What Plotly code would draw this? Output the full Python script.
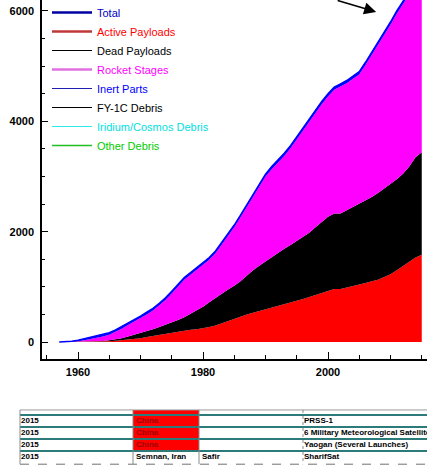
import plotly.graph_objects as go

# years (one point per year)
anos = list(range(1957, 2016))

# cumulative counts (top edge of each stacked band)
ativos = [0, 1, 2, 3, 4, 6, 8, 10, 15, 25, 35, 45, 57, 70, 90, 110, 125, 140, 160, 185,
          200, 220, 230, 245, 270, 300, 340, 380, 430, 470, 500, 530, 560, 590, 620, 650,
          685, 720, 750, 780, 815, 850, 890, 930, 960, 960, 985, 1010, 1040, 1070, 1100,
          1130, 1180, 1230, 1300, 1380, 1460, 1530, 1580]
mortos = [0, 1, 2, 3, 5, 7, 10, 18, 30, 48, 70, 100, 130, 160, 195, 230, 270, 310, 350, 400,
          450, 510, 580, 640, 720, 800, 870, 950, 1020, 1100, 1200, 1300, 1380, 1460, 1540,
          1620, 1690, 1760, 1830, 1900, 1980, 2080, 2170, 2270, 2330, 2330, 2390, 2450, 2500,
          2560, 2630, 2700, 2780, 2860, 2950, 3050, 3180, 3350, 3440]
foguetes = [0, 1, 5, 12, 30, 50, 70, 100, 130, 180, 240, 310, 370, 430, 500, 570, 660, 760,
            880, 1010, 1130, 1220, 1310, 1390, 1490, 1610, 1760, 1930, 2080, 2260, 2440, 2630,
            2810, 3000, 3130, 3250, 3370, 3510, 3670, 3840, 4000, 4170, 4310, 4450, 4570, 4630,
            4690, 4770, 4850, 5020, 5200, 5370, 5550, 5750, 5950, 6120, 6300, 6480, 6650]
total = [0, 5, 15, 30, 60, 85, 110, 140, 170, 220, 280, 350, 410, 470, 540, 610, 700, 800,
         920, 1050, 1170, 1260, 1350, 1430, 1530, 1650, 1800, 1970, 2120, 2300, 2480, 2670,
         2850, 3040, 3180, 3300, 3420, 3560, 3720, 3890, 4050, 4220, 4360, 4500, 4620, 4680,
         4740, 4820, 4900, 5070, 5250, 5420, 5600, 5800, 6000, 6170, 6350, 6530, 6700]

# legend entries
legenda = ["Total", "Active Payloads", "Dead Payloads", "Rocket Stages", "Inert Parts",
           "FY-1C Debris", "Iridium/Cosmos Debris", "Other Debris"]
cor_linha = ["#0000a0", "#c03838", "#000000", "#e070e0", "#2020b0", "#000000", "#30e8e8", "#20c020"]
cor_texto = ["#0000c8", "#ff0000", "#000000", "#ff00ff", "#0000ff", "#000000", "#00e0e0", "#00cc00"]
larg_linha = [2.5, 2.5, 1, 2.5, 1, 1, 1, 1.5]

# table rows under the chart
tab_ano = ["2015", "2015", "2015", "2015"]
tab_local = ["China", "China", "China", "Semnan, Iran"]
tab_foguete = ["", "", "", "Safir"]
tab_satelite = ["PRSS-1", "6 Military Meteorological Satellites",
                "Yaogan (Several Launches)", "SharifSat"]

W, H = 427, 470

fig = go.Figure()

fig.add_trace(go.Scatter(x=anos, y=ativos, fill="tozeroy", mode="lines",
                         line=dict(color="#ff0000", width=0), fillcolor="#ff0000",
                         showlegend=False, hoverinfo="skip"))
fig.add_trace(go.Scatter(x=anos, y=mortos, fill="tonexty", mode="lines",
                         line=dict(color="#000000", width=0), fillcolor="#000000",
                         showlegend=False, hoverinfo="skip"))
fig.add_trace(go.Scatter(x=anos, y=foguetes, fill="tonexty", mode="lines",
                         line=dict(color="#ff00ff", width=0), fillcolor="#ff00ff",
                         showlegend=False, hoverinfo="skip"))
fig.add_trace(go.Scatter(x=anos, y=total, fill="tonexty", mode="lines",
                         line=dict(color="#0000ff", width=1.5), fillcolor="#0000ff",
                         showlegend=False, hoverinfo="skip"))

for nome, cl, ct, lw in zip(legenda, cor_linha, cor_texto, larg_linha):
    fig.add_trace(go.Scatter(x=[None], y=[None], mode="lines",
                             line=dict(color=cl, width=lw),
                             name='<span style="color:%s">%s</span>' % (ct, nome)))

# table: text drawn on a hidden second pair of axes (x in px, y in rows)
fonte_tab = "Liberation Sans Narrow, Arial Narrow, Liberation Sans"
linhas = [i + 0.5 for i in range(len(tab_ano))]
col_x = [21, 136, 202, 304]
cores_local = ["#a00000" if c == "China" else "#000000" for c in tab_local]
for xc, vals, cores in zip(col_x, [tab_ano, tab_local, tab_foguete, tab_satelite],
                           ["#000000", cores_local, "#000000", "#000000"]):
    fig.add_trace(go.Scatter(x=[xc] * len(vals), y=linhas, mode="text", text=vals,
                             textposition="middle right", xaxis="x2", yaxis="y2",
                             textfont=dict(family=fonte_tab, size=8, weight="bold", color=cores),
                             showlegend=False, hoverinfo="skip", cliponaxis=True))

for i, loc in enumerate(tab_local):
    if loc == "China":
        fig.add_shape(type="rect", xref="x2", yref="y2", x0=133, x1=199, y0=i, y1=i + 1,
                      fillcolor="#ff0000", line_width=0, layer="below")
# partially visible row above
fig.add_shape(type="rect", xref="x2", yref="y2", x0=133, x1=199, y0=-0.42, y1=0,
              fillcolor="#ff0000", line_width=0, layer="below")
fig.add_shape(type="line", xref="x2", yref="y2", x0=20, x1=W, y0=-0.42, y1=-0.42,
              line=dict(color="#9a9a9a", width=1))
for i in range(len(tab_ano)):
    fig.add_shape(type="line", xref="x2", yref="y2", x0=20, x1=W, y0=i, y1=i,
                  line=dict(color="#2c7a7a", width=2))
fig.add_shape(type="line", xref="x2", yref="y2", x0=20, x1=W, y0=4.1, y1=4.1,
              line=dict(color="#707070", width=1, dash="dash"))
for xv, d in [(20, "solid"), (133, "solid"), (199, "solid"), (303, "dot")]:
    fig.add_shape(type="line", xref="x2", yref="y2", x0=xv, x1=xv, y0=-0.42, y1=4.1,
                  line=dict(color="#8a8a8a", width=1, dash=d))

fig.update_layout(
    width=W, height=H, autosize=False,
    margin=dict(l=0, r=0, t=0, b=0, autoexpand=False),
    paper_bgcolor="white", plot_bgcolor="white",
    font=dict(family="Liberation Sans, Arial", size=10, color="black"),
    legend=dict(x=47 / W, y=1 + 2 / H, xanchor="left", yanchor="top", traceorder="normal",
                bgcolor="rgba(0,0,0,0)", font=dict(size=11), itemwidth=40),
    xaxis=dict(domain=[42 / W, 1], range=[1954.24, 2015.84],
               tick0=1960, dtick=20, ticks="inside", ticklen=7, tickcolor="black",
               minor=dict(tick0=1955, dtick=5, ticks="inside", ticklen=4, tickcolor="black"),
               showline=True, linecolor="black", linewidth=1.5, showgrid=False,
               zeroline=False, ticklabelstandoff=2, tickfont=dict(size=11, weight="bold")),
    yaxis=dict(domain=[1 - 359 / H, 1], range=[-308, 6199],
               tick0=0, dtick=2000, ticks="inside", ticklen=6, tickcolor="black",
               minor=dict(dtick=500, ticks="inside", ticklen=3, tickcolor="black"),
               showline=True, linecolor="black", linewidth=1.5, showgrid=False,
               zeroline=False, ticklabelstandoff=4, tickfont=dict(size=11, weight="bold")),
    xaxis2=dict(domain=[0, 1], range=[0, W], visible=False, anchor="y2"),
    yaxis2=dict(domain=[0, 75 / H], range=[4.583, -1.667], visible=False, anchor="x2"),
)

# arrow pointing at the FY-1C event (label lies outside the crop)
fig.add_annotation(x=2007.7, y=5982, ax=-40, ay=-22, text="", showarrow=True,
                   arrowhead=2, arrowsize=1.6, arrowwidth=1.5, arrowcolor="black")

# page has an 8px body margin by default; drop it so the figure fills the window
fig.write_html("out.html", config={"displayModeBar": False},
               post_script="document.body.style.margin = '0';")
